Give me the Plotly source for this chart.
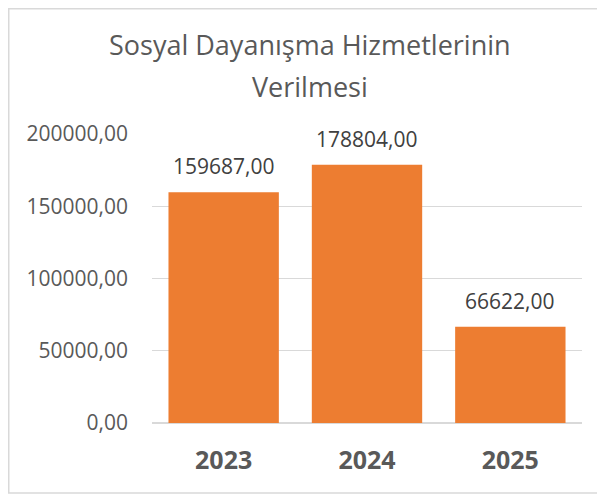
import plotly.graph_objects as go

years = ["2023", "2024", "2025"]
values = [159687, 178804, 66622]
data_labels = ["159687,00", "178804,00", "66622,00"]
y_ticks = [0, 50000, 100000, 150000, 200000]
title_lines = ["Sosyal Dayanışma Hizmetlerinin", "Verilmesi"]

# page body has an 8px margin; figure sized to fit the 605x495 window
W, H = 597, 487
L, R, T, B = 144, 23, 126, 72
pw, ph = W - L - R, H - T - B

fig = go.Figure()
fig.add_trace(go.Bar(
    x=years, y=values, marker=dict(color="#ED7D31", line=dict(width=0)),
    width=0.77, hoverinfo="skip",
))
for i, (v, t) in enumerate(zip(values, data_labels)):
    fig.add_annotation(x=i, y=v, text=t, showarrow=False, yanchor="middle",
                       yshift=26, font=dict(family="Open Sans", size=21, color="#404040"))

# title, two lines
for txt, cy in zip(title_lines, [36, 78]):
    fig.add_annotation(xref="paper", yref="paper", x=(W / 2 + 3 - L) / pw, y=1 + (T - cy) / ph,
                       text=txt, showarrow=False, xanchor="center", yanchor="middle",
                       font=dict(family="Open Sans", size=27, color="#595959"))

# chart border
fig.add_shape(type="rect", xref="paper", yref="paper",
              x0=(0.75 - L) / pw, x1=(W + 60 - L) / pw,
              y0=-(485 - T - ph) / ph, y1=(ph + T - 0.75) / ph,
              line=dict(color="#D9D9D9", width=1.5), fillcolor="rgba(0,0,0,0)", layer="above")

fig.update_layout(
    width=W, height=H, margin=dict(l=L, r=R, t=T, b=B),
    paper_bgcolor="white", plot_bgcolor="white",
    separators=",.",
    showlegend=False, bargap=0.23,
    font=dict(family="Open Sans"),
)
fig.update_xaxes(type="category", range=[-0.5, 2.5], showgrid=False, showline=False,
                 ticks="", ticklabelstandoff=20,
                 tickfont=dict(family="Open Sans", size=25, color="#595959", weight="bold"))
fig.update_yaxes(range=[0, 200000], tickvals=y_ticks, tickformat=".2f",
                 showgrid=True, gridcolor="#D9D9D9", gridwidth=1,
                 zeroline=True, zerolinecolor="#D9D9D9", zerolinewidth=1.5,
                 showline=False, ticks="", ticklabelstandoff=23,
                 tickfont=dict(family="Open Sans", size=21, color="#595959"))

fig.write_html("out.html")
